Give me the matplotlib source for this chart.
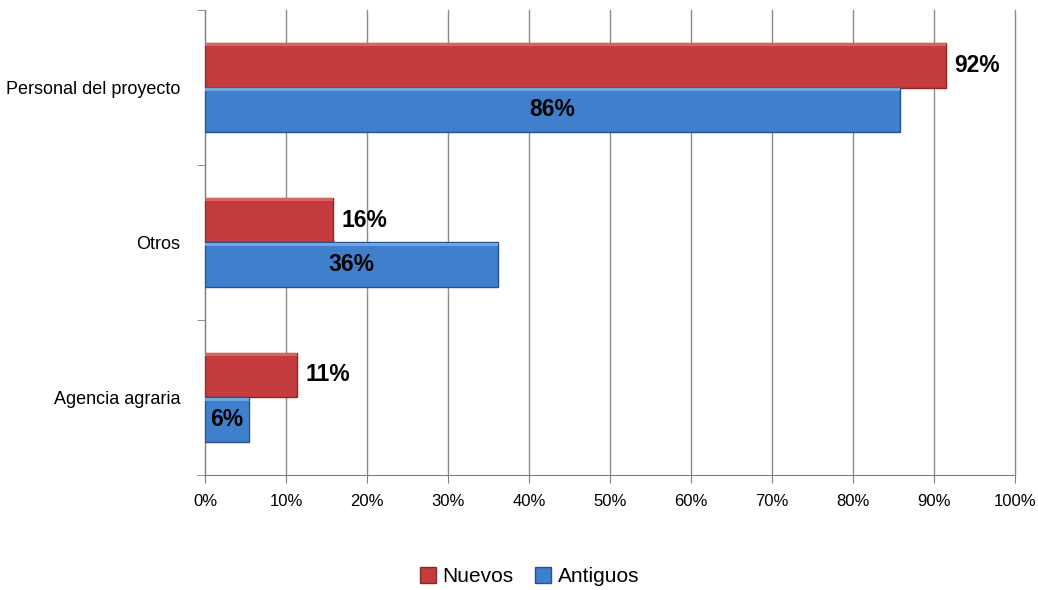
import matplotlib.pyplot as plt
from matplotlib import font_manager
import numpy as np

# data (percent)
categories = ['Agencia agraria', 'Otros', 'Personal del proyecto']
nuevos = [11.4, 15.8, 91.5]
antiguos = [5.4, 36.2, 85.8]
nuevos_labels = ['11%', '16%', '92%']
antiguos_labels = ['6%', '36%', '86%']
xticks = list(range(0, 101, 10))

names = {f.name for f in font_manager.fontManager.ttflist}
font = 'Liberation Sans Narrow' if 'Liberation Sans Narrow' in names else 'Liberation Sans'
plt.rcParams['font.family'] = [font, 'DejaVu Sans']

red, red_dark, red_light = '#C43C3D', '#8E2526', '#DD6262'
blue, blue_dark, blue_light = '#3F7FCB', '#27548E', '#6FA6E6'

fig = plt.figure(figsize=(10.38, 5.90), dpi=100)
ax = fig.add_axes([0.1975, 0.195, 0.7805, 0.788])

y = np.arange(len(categories))
h = 0.29

ax.barh(y + h / 2, nuevos, height=h, color=red, edgecolor=red_dark, linewidth=1, zorder=3, label='Nuevos')
ax.barh(y - h / 2, antiguos, height=h, color=blue, edgecolor=blue_dark, linewidth=1, zorder=3, label='Antiguos')
# light bevel strip along top of each bar
ax.barh(y + h - 0.015, nuevos, height=0.02, color=red_light, linewidth=0, zorder=4)
ax.barh(y - 0.015, antiguos, height=0.02, color=blue_light, linewidth=0, zorder=4)

for yi, v, lab in zip(y, nuevos, nuevos_labels):
    ax.text(v + 1.0, yi + h / 2, lab, va='center', ha='left', fontsize=16.5, fontweight='bold', zorder=5)
for yi, v, lab in zip(y, antiguos, antiguos_labels):
    ax.text(v / 2, yi - h / 2, lab, va='center', ha='center', fontsize=16.5, fontweight='bold', zorder=5)

ax.set_xlim(0, 100)
ax.set_ylim(-0.5, 2.5)
ax.set_xticks(xticks)
ax.set_xticklabels([f'{t}%' for t in xticks], fontsize=12)
ax.set_yticks(y)
ax.set_yticklabels(categories, fontsize=13)
ax.tick_params(axis='y', length=0, pad=18)
ax.set_yticks([-0.5, 0.5, 1.5, 2.5], minor=True)
ax.tick_params(axis='y', which='minor', length=6, color='#808080')
ax.tick_params(axis='x', length=6, color='#808080', pad=8)

ax.grid(axis='x', color='#8C8C8C', linewidth=1, zorder=0)
for gl in ax.get_xgridlines():
    gl.set_clip_on(False)
for s in ['top', 'right']:
    ax.spines[s].set_visible(False)
for s in ['left', 'bottom']:
    ax.spines[s].set_color('#808080')

fig.legend(loc='lower center', bbox_to_anchor=(0.51, -0.025), ncol=2, frameon=False,
           fontsize=15, handlelength=0.8, handleheight=0.8, handletextpad=0.3, columnspacing=1.0)

fig.savefig('out.png', dpi=100)
